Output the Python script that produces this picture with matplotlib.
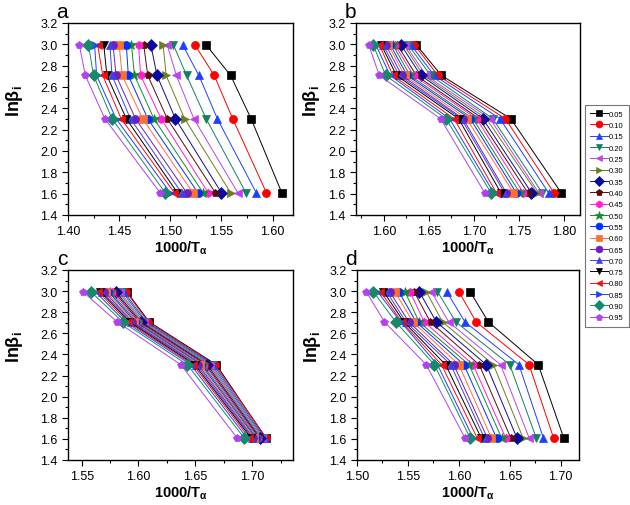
import matplotlib
matplotlib.use("Agg")
import matplotlib.pyplot as plt
from matplotlib.ticker import MultipleLocator

plt.rcParams["font.family"] = ["Liberation Sans", "DejaVu Sans"]
plt.rcParams["mathtext.fontset"] = "custom"
plt.rcParams["mathtext.rm"] = "Liberation Sans"
plt.rcParams["mathtext.it"] = "Liberation Sans:italic"
plt.rcParams["mathtext.bf"] = "Liberation Sans:bold"

# ln(beta) levels (beta = 20, 15, 10, 5 K/min)
ln_beta = [2.996, 2.708, 2.303, 1.609]

alphas = ["0.05", "0.10", "0.15", "0.20", "0.25", "0.30", "0.35", "0.40", "0.45", "0.50",
          "0.55", "0.60", "0.65", "0.70", "0.75", "0.80", "0.85", "0.90", "0.95"]

# 1000/T values, one row per heating rate, 19 conversions each
x_a = [
    [1.535, 1.524, 1.512, 1.503, 1.497, 1.493, 1.481, 1.474, 1.469, 1.462,
     1.457, 1.450, 1.444, 1.441, 1.435, 1.429, 1.426, 1.420, 1.411],
    [1.559, 1.543, 1.528, 1.516, 1.506, 1.496, 1.487, 1.478, 1.471, 1.465,
     1.459, 1.453, 1.447, 1.443, 1.438, 1.434, 1.428, 1.425, 1.417],
    [1.579, 1.561, 1.546, 1.535, 1.523, 1.514, 1.505, 1.497, 1.491, 1.484,
     1.478, 1.473, 1.466, 1.461, 1.457, 1.452, 1.447, 1.443, 1.436],
    [1.609, 1.594, 1.584, 1.574, 1.566, 1.559, 1.550, 1.544, 1.537, 1.532,
     1.527, 1.522, 1.516, 1.511, 1.507, 1.504, 1.500, 1.495, 1.490],
]
x_b = [
    [1.636, 1.634, 1.630, 1.627, 1.624, 1.622, 1.619, 1.615, 1.612, 1.610,
     1.607, 1.605, 1.602, 1.599, 1.597, 1.595, 1.591, 1.588, 1.583],
    [1.664, 1.660, 1.656, 1.652, 1.647, 1.644, 1.641, 1.636, 1.633, 1.629,
     1.626, 1.623, 1.620, 1.617, 1.614, 1.610, 1.607, 1.602, 1.595],
    [1.741, 1.735, 1.729, 1.721, 1.718, 1.714, 1.710, 1.706, 1.703, 1.699,
     1.696, 1.692, 1.688, 1.686, 1.683, 1.678, 1.673, 1.669, 1.663],
    [1.797, 1.789, 1.783, 1.776, 1.772, 1.770, 1.764, 1.760, 1.755, 1.751,
     1.747, 1.744, 1.736, 1.734, 1.730, 1.725, 1.722, 1.719, 1.712],
]
x_c = [
    [1.5896, 1.5890, 1.5870, 1.5855, 1.5835, 1.5820, 1.5800, 1.5785, 1.5770, 1.5750,
     1.5735, 1.5715, 1.5700, 1.5680, 1.5665, 1.5645, 1.5620, 1.5580, 1.5509],
    [1.6095, 1.6085, 1.6070, 1.6058, 1.6045, 1.6032, 1.6020, 1.6008, 1.5995, 1.5983,
     1.5970, 1.5958, 1.5945, 1.5933, 1.5920, 1.5905, 1.5885, 1.5860, 1.5813],
    [1.6685, 1.6672, 1.6660, 1.6645, 1.6632, 1.6620, 1.6605, 1.6592, 1.6580, 1.6565,
     1.6552, 1.6538, 1.6525, 1.6510, 1.6495, 1.6480, 1.6460, 1.6430, 1.6373],
    [1.7120, 1.7125, 1.7110, 1.7100, 1.7090, 1.7080, 1.7070, 1.7060, 1.7050, 1.7040,
     1.7030, 1.7020, 1.7010, 1.7000, 1.6990, 1.6975, 1.6955, 1.6930, 1.6868],
]
x_d = [
    [1.611, 1.600, 1.588, 1.579, 1.573, 1.568, 1.561, 1.556, 1.552, 1.547,
     1.541, 1.537, 1.532, 1.529, 1.526, 1.523, 1.520, 1.516, 1.509],
    [1.629, 1.617, 1.606, 1.597, 1.590, 1.584, 1.578, 1.572, 1.566, 1.561,
     1.558, 1.555, 1.551, 1.548, 1.546, 1.544, 1.543, 1.538, 1.527],
    [1.678, 1.669, 1.659, 1.650, 1.641, 1.634, 1.627, 1.620, 1.614, 1.610,
     1.605, 1.600, 1.595, 1.592, 1.587, 1.583, 1.579, 1.576, 1.568],
    [1.703, 1.693, 1.683, 1.676, 1.669, 1.663, 1.657, 1.651, 1.646, 1.642,
     1.637, 1.632, 1.628, 1.625, 1.622, 1.618, 1.614, 1.611, 1.606],
]

colors = ["#000000", "#ff0000", "#1f3fff", "#118060", "#c040f0", "#6b7f1f", "#0a0aa0",
          "#5a0a0a", "#ff1fd0", "#138a30", "#0030ff", "#ff7030", "#6a20c0", "#4040e0",
          "#000000", "#ff0a0a", "#1f3fff", "#158a6a", "#b040f0"]
markers = ["s", "o", "^", "v", "<", ">", "D", "p", "h", "*",
           "o", "s", "o", "^", "v", "<", ">", "D", "p"]

W, H = 630, 506
fig = plt.figure(figsize=(W / 100, H / 100), dpi=100)

panels = [
    ("a", x_a, [68, 24, 293, 216], (1.40, 1.62), [1.40, 1.45, 1.50, 1.55, 1.60], -0.19),
    ("b", x_b, [356, 24, 580, 216], (1.569, 1.818), [1.60, 1.65, 1.70, 1.75, 1.80], -0.152),
    ("c", x_c, [68, 271, 293, 461], (1.538, 1.736), [1.55, 1.60, 1.65, 1.70], -0.19),
    ("d", x_d, [357, 271, 579, 461], (1.50, 1.718), [1.50, 1.55, 1.60, 1.65, 1.70], -0.152),
]

handles = []
for letter, xs, (l, t, r, b), xlim, xticks, ylab_x in panels:
    ax = fig.add_axes([l / W, 1 - b / H, (r - l) / W, (b - t) / H])
    hs = []
    for j in range(len(alphas)):
        xv = [row[j] for row in xs]
        ms = 7.5 if markers[j] == "*" else 5.8
        h, = ax.plot(xv, ln_beta, color=colors[j], marker=markers[j], markersize=ms,
                     linewidth=0.7, markeredgewidth=0.5, label=alphas[j])
        hs.append(h)
    if not handles:
        handles = hs
    ax.set_xlim(*xlim)
    ax.set_ylim(1.4, 3.2)
    ax.set_xticks(xticks)
    ax.set_xticklabels([f"{v:.2f}" for v in xticks])
    ax.xaxis.set_minor_locator(MultipleLocator(0.025))
    ax.yaxis.set_major_locator(MultipleLocator(0.2))
    ax.yaxis.set_minor_locator(MultipleLocator(0.1))
    ax.tick_params(which="both", direction="out", labelsize=9, width=0.8)
    ax.tick_params(which="major", length=4)
    ax.tick_params(which="minor", length=2)
    for s in ax.spines.values():
        s.set_linewidth(1.0)
    ax.set_xlabel(r"$\mathbf{1000/T_{\alpha}}$", fontsize=10.5, labelpad=1)
    ax.set_ylabel(r"$\mathbf{ln\beta_i}$", fontsize=13)
    ax.yaxis.set_label_coords(ylab_x, 0.6)
    ax.text(0.0, 1.01, letter, transform=ax.transAxes, fontsize=15,
            ha="right", va="bottom")

leg = fig.legend(handles=handles, loc="upper right",
                 bbox_to_anchor=(629 / W, 1 - 106 / H), fontsize=5.5,
                 frameon=True, fancybox=False, edgecolor="#555555",
                 labelspacing=0.52, handlelength=2.3, handletextpad=0.15,
                 borderpad=0.7, borderaxespad=0, markerscale=0.85)
leg.get_frame().set_linewidth(0.8)

fig.savefig("out.png", dpi=100)
